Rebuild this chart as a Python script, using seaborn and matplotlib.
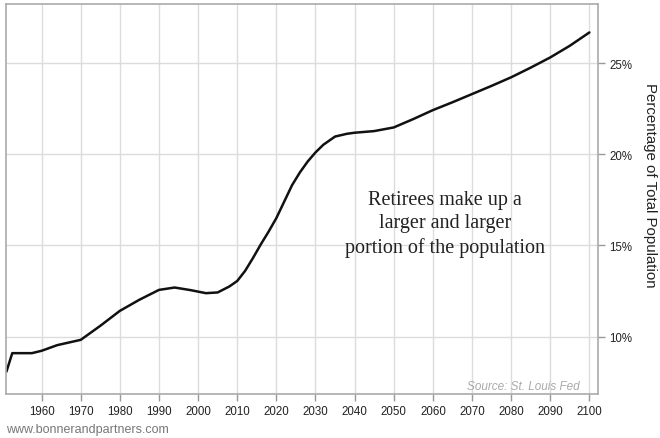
import matplotlib
matplotlib.use("Agg")
import matplotlib.pyplot as plt
import matplotlib.ticker as mticker
import seaborn as sns
import pandas as pd

# share of population aged 65+
years = [1951, 1952.5, 1957.5, 1960, 1964, 1970, 1975, 1980, 1985, 1990,
         1994, 1998, 2002, 2005, 2008, 2010, 2012, 2014, 2016, 2018, 2020,
         2022, 2024, 2026, 2028, 2030, 2032, 2035, 2038, 2040, 2045,
         2050, 2055, 2060, 2065, 2070, 2075, 2080, 2085, 2090, 2095, 2100]
share = [8.07, 9.09, 9.09, 9.22, 9.53, 9.82, 10.59, 11.41, 12.02, 12.56,
         12.69, 12.55, 12.38, 12.42, 12.75, 13.05, 13.6, 14.3, 15.05, 15.75, 16.5,
         17.4, 18.3, 19.0, 19.6, 20.1, 20.52, 20.97, 21.12, 21.18, 21.27,
         21.47, 21.93, 22.42, 22.85, 23.30, 23.75, 24.22, 24.75, 25.31, 25.95, 26.68]

x_ticks = list(range(1960, 2101, 10))
y_ticks = [10, 15, 20, 25]

df = pd.DataFrame({"year": years, "share": share})

sns.set_style("white")
plt.rcParams['font.family'] = ['Liberation Sans', 'DejaVu Sans']

fig = plt.figure(figsize=(6.6, 4.39), dpi=100)
ax = fig.add_axes([6/660, 1-395/439, 592/660, 390/439])

sns.lineplot(data=df, x="year", y="share", ax=ax, color="#111111",
             linewidth=1.8, estimator=None, sort=False)

ax.set_xlim(1950.9, 2102.2)
ax.set_ylim(6.85, 28.24)
ax.set_xticks(x_ticks)
ax.set_yticks(y_ticks)
ax.yaxis.set_major_formatter(mticker.FuncFormatter(lambda v, p: f"{v:.0f}%"))
ax.xaxis.set_ticks_position("bottom")
ax.yaxis.set_ticks_position("right")
ax.yaxis.set_label_position("right")
ax.grid(True, color="#dcdcdc", linewidth=1)
ax.set_axisbelow(True)
for s in ax.spines.values():
    s.set_visible(True)
    s.set_color("#aaaaaa")
    s.set_linewidth(1.2)
ax.tick_params(axis="both", which="major", direction="out", length=5, width=1,
               color="#999999", labelsize=8.3, labelcolor="#222222", pad=3)
ax.set_xlabel("")
ax.set_ylabel("Percentage of Total Population", rotation=270,
              fontsize=10.8, color="#222222", va="center")
ax.yaxis.set_label_coords(1.088, 0.538)

ax.text(2063.1, 16.2, "Retirees make up a\nlarger and larger\nportion of the population",
        ha="center", va="center", fontsize=14.5, family="Liberation Serif",
        color="#222222", linespacing=1.3)

ax.text(2097.5, 7.3, "Source: St. Louis Fed", ha="right", va="center",
        fontsize=8.5, style="italic", color="#aaaaaa")

fig.text(6/660, 1-430/439, "www.bonnerandpartners.com", ha="left", va="center",
         fontsize=9, color="#777777")

fig.savefig("out.png", dpi=100)
